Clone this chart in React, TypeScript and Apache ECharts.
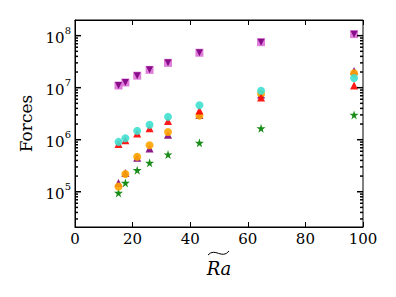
import React, { useEffect, useRef } from "react";
import * as echarts from "echarts";

const raValues = [15.1, 17.5, 21.6, 25.9, 32.3, 43.2, 64.6, 96.9];
const squareSeries = [1.1e7, 1.26e7, 1.7e7, 2.2e7, 3.0e7, 4.7e7, 7.5e7, 1.07e8];
const downTriSeries = [1.1e7, 1.26e7, 1.7e7, 2.2e7, 3.0e7, 4.7e7, 7.5e7, 1.07e8];
const cyanSeries = [9.1e5, 1.07e6, 1.48e6, 1.94e6, 2.75e6, 4.6e6, 8.7e6, 1.54e7];
const redSeries = [8.3e5, 9.8e5, 1.32e6, 1.66e6, 2.3e6, 3.65e6, 6.5e6, 1.1e7];
const orangeSeries = [1.26e5, 2.2e5, 4.7e5, 7.8e5, 1.41e6, 2.9e6, 7.6e6, 1.9e7];
const purpleUpSeries = [1.48e5, 2.3e5, 4.5e5, 6.8e5, 1.25e6, 3.0e6, 7.4e6, 2.1e7];
const greenSeries = [9.5e4, 1.48e5, 2.6e5, 3.6e5, 5.2e5, 8.7e5, 1.66e6, 3.0e6];

const yMajorTicks = [1e5, 1e6, 1e7, 1e8];
const yMinorTicks = [
  3e4, 4e4, 5e4, 6e4, 7e4, 8e4, 9e4,
  2e5, 3e5, 4e5, 5e5, 6e5, 7e5, 8e5, 9e5,
  2e6, 3e6, 4e6, 5e6, 6e6, 7e6, 8e6, 9e6,
  2e7, 3e7, 4e7, 5e7, 6e7, 7e7, 8e7, 9e7,
];

const FONT = "DejaVu Serif";
const STAR =
  "path://M50,0 L61,35 L98,35 L68,57 L79,91 L50,70 L21,91 L32,57 L2,35 L39,35 Z";
const DOWN_TRI = "path://M0,0 L10,0 L5,9 Z";

const pairs = (ys: number[]) => raValues.map((x, i) => [x, ys[i]]);

function yTickSeries(values: number[], len: number) {
  return {
    type: "custom",
    coordinateSystem: "cartesian2d",
    z: 10,
    data: values.map((v) => [50, v]),
    renderItem: (params: any, api: any) => {
      const p = api.coord([50, api.value(1)]);
      const cs = params.coordSys;
      const left = cs.x;
      const right = cs.x + cs.width;
      return {
        type: "group",
        children: [
          { type: "line", shape: { x1: left, y1: p[1], x2: left + len, y2: p[1] }, style: { stroke: "#000", lineWidth: 1.5 } },
          { type: "line", shape: { x1: right - len, y1: p[1], x2: right, y2: p[1] }, style: { stroke: "#000", lineWidth: 1.5 } },
        ],
      };
    },
  };
}

export default function App() {
  const ref = useRef<HTMLDivElement>(null);
  useEffect(() => {
    if (!ref.current) return;
    const chart = echarts.init(ref.current, null, { renderer: "svg" });
    const yLabel = (v: number) => {
      if (!yMajorTicks.some((t) => Math.abs(t - v) / t < 1e-6)) return "";
      const e = Math.round(Math.log10(v));
      return `{b|10}{s|${e}}`;
    };
    const scatter = (
      data: number[],
      symbol: string,
      color: string,
      size: number,
      z: number
    ) => ({
      type: "scatter",
      data: pairs(data),
      symbol,
      symbolSize: size,
      itemStyle: { color, opacity: 0.9 },
      z,
    });
    const xTick = { show: true, inside: true, length: 5, lineStyle: { color: "#000", width: 1 } };
    chart.setOption({
      animation: false,
      grid: {
        left: 75,
        right: 33,
        top: 20,
        bottom: 70,
        outerBoundsMode: "none",
        show: true,
        borderColor: "#000",
        borderWidth: 1,
      },
      xAxis: [
        {
          type: "value",
          min: 0,
          max: 100,
          interval: 20,
          position: "bottom",
          axisLine: { show: true, onZero: false, lineStyle: { color: "#000", width: 1 } },
          splitLine: { show: false },
          axisTick: xTick,
          axisLabel: { fontFamily: FONT, fontSize: 15, color: "#000", margin: 4 },
          name: "Ra",
          nameLocation: "middle",
          nameGap: 32,
          nameTextStyle: { fontFamily: FONT, fontStyle: "italic", fontSize: 18, color: "#000" },
        },
        {
          type: "value",
          min: 0,
          max: 100,
          interval: 20,
          position: "top",
          axisLine: { show: true, onZero: false, lineStyle: { color: "#000", width: 1 } },
          splitLine: { show: false },
          axisTick: xTick,
          axisLabel: { show: false },
        },
      ],
      yAxis: {
        type: "log",
        logBase: 10,
        min: 2.1e4,
        max: 2.0e8,
        axisLine: { show: true, lineStyle: { color: "#000", width: 1 } },
        splitLine: { show: false },
        axisTick: { show: false },
        axisLabel: {
          showMinLabel: false,
          showMaxLabel: false,
          margin: 4,
          formatter: yLabel,
          rich: {
            b: { fontFamily: FONT, fontSize: 15, color: "#000", verticalAlign: "bottom", lineHeight: 20 },
            s: { fontFamily: FONT, fontSize: 10, color: "#000", verticalAlign: "top", lineHeight: 20 },
          },
        },
        name: "Forces",
        nameLocation: "middle",
        nameGap: 38,
        nameRotate: 90,
        nameTextStyle: { fontFamily: FONT, fontSize: 17, color: "#000" },
      },
      graphic: [
        {
          type: "bezierCurve",
          shape: { x1: 208, y1: 255, cpx1: 215, cpy1: 247, cpx2: 222, cpy2: 260, x2: 229, y2: 251 },
          style: { stroke: "#000", lineWidth: 1, fill: null },
        },
      ],
      series: [
        yTickSeries(yMajorTicks, 6),
        yTickSeries(yMinorTicks, 3),
        scatter(greenSeries, STAR, "#008000", 9, 2),
        scatter(purpleUpSeries, "triangle", "#800080", 8, 3),
        scatter(orangeSeries, "circle", "#FFA500", 8, 4),
        scatter(redSeries, "triangle", "#FF0000", 8, 5),
        scatter(cyanSeries, "circle", "#40E0D0", 8, 6),
        scatter(squareSeries, "rect", "#DA70D6", 8, 7),
        scatter(downTriSeries, DOWN_TRI, "#800080", 7, 8),
      ],
    });
    return () => chart.dispose();
  }, []);
  return <div ref={ref} style={{ width: 396, height: 297, position: "absolute", left: 0, top: 0 }} />;
}
